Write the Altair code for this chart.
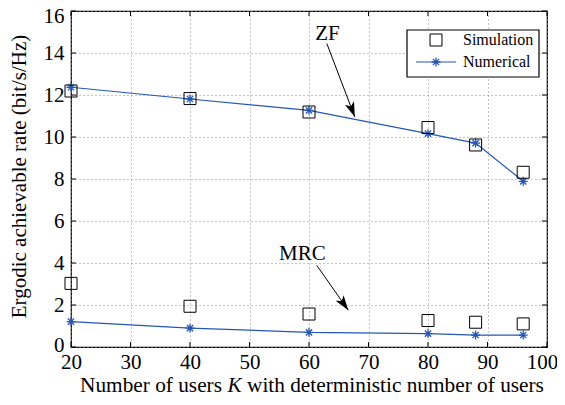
import math
import altair as alt
import pandas as pd

# ---------------- data ----------------
K = [20, 40, 60, 80, 88, 96]
zf_sim = [12.19, 11.83, 11.19, 10.45, 9.62, 8.32]
zf_num = [12.37, 11.81, 11.27, 10.16, 9.71, 7.89]
mrc_sim = [3.03, 1.94, 1.57, 1.26, 1.18, 1.10]
mrc_num = [1.21, 0.90, 0.70, 0.64, 0.57, 0.57]

x_ticks = [20, 30, 40, 50, 60, 70, 80, 90, 100]
y_ticks = [0, 2, 4, 6, 8, 10, 12, 14, 16]

ann_labels = ["ZF", "MRC"]
ann_text_x = [63.1, 58.9]
ann_text_y = [14.6, 4.13]
arrow_x0 = [63.0, 61.3]
arrow_y0 = [14.45, 3.89]
arrow_x1 = [67.7, 66.6]
arrow_y1 = [10.95, 1.75]

legend_labels = ["Simulation", "Numerical"]

# ---------------- styling ----------------
W, H = 476, 336
FONT = "Liberation Serif"
FS = 21
BLUE = "#2456b6"
STAR = "M0,-1L0,1M-1,0L1,0M-0.7,-0.7L0.7,0.7M-0.7,0.7L0.7,-0.7"
HEAD = "M0,0L-0.45,1.4L0,1.05L0.45,1.4Z"

xscale = alt.Scale(domain=[20, 100], nice=False, zero=False)
yscale = alt.Scale(domain=[0, 16], nice=False, zero=False)

num_df = pd.DataFrame({
    "K": K + K,
    "rate": zf_num + mrc_num,
    "scheme": ["ZF"] * len(K) + ["MRC"] * len(K),
})
sim_df = pd.DataFrame({
    "K": K + K,
    "rate": zf_sim + mrc_sim,
    "scheme": ["ZF"] * len(K) + ["MRC"] * len(K),
})

px_x = W / 80.0
px_y = H / 16.0
angles = []
for i in range(len(ann_labels)):
    dx = (arrow_x1[i] - arrow_x0[i]) * px_x
    dy = (arrow_y0[i] - arrow_y1[i]) * px_y
    a = math.degrees(math.atan2(dx, -dy)) % 360
    angles.append(a)

ann_df = pd.DataFrame({
    "label": ann_labels, "tx": ann_text_x, "ty": ann_text_y,
    "x0": arrow_x0, "y0": arrow_y0, "x1": arrow_x1, "y1": arrow_y1,
    "angle": angles,
})
xt_df = pd.DataFrame({"v": x_ticks})
yt_df = pd.DataFrame({"v": y_ticks})
one = pd.DataFrame({"a": [0]})

x_axis = alt.Axis(values=x_ticks, title=None, labelPadding=4, labelFlush=False,
                  labelFont=FONT, labelFontSize=FS, labelColor="black",
                  labelOffset={"condition": [
                      {"test": "datum.value === 100", "value": -5}],
                      "value": 0})
y_axis = alt.Axis(values=y_ticks, title="Ergodic achievable rate (bit/s/Hz)",
                  labelPadding=7, labelFont=FONT, labelFontSize=FS, labelColor="black",
                  labelFlush=False,
                  labelOffset={"condition": [
                      {"test": "datum.value === 16", "value": 5},
                      {"test": "datum.value === 0", "value": -2}],
                      "value": 0},
                  titleFont=FONT, titleFontSize=FS, titleFontWeight="normal",
                  titleColor="black", titleX=-46, titleY=165, titleAngle=270,
                  titleAlign="center", titleBaseline="alphabetic")


def X(field):
    return alt.X(field, scale=xscale, axis=x_axis)


def Y(field):
    return alt.Y(field, scale=yscale, axis=y_axis)


lines = alt.Chart(num_df).mark_line(color=BLUE, strokeWidth=1.2).encode(
    x=X("K:Q"), y=Y("rate:Q"), detail="scheme:N")
stars = alt.Chart(num_df).mark_point(shape=STAR, filled=False, size=80,
                                     color=BLUE, strokeWidth=1.3, opacity=1).encode(
    x=X("K:Q"), y=Y("rate:Q"))
squares = alt.Chart(sim_df).mark_point(shape="square", filled=False, size=144,
                                       color="black", strokeWidth=1, opacity=1).encode(
    x=X("K:Q"), y=Y("rate:Q"))

# inward ticks on all four sides
tb = alt.Chart(xt_df).mark_rule(color="black", strokeWidth=1).encode(
    x=X("v:Q"), y=alt.value(H), y2=alt.value(H - 5))
tt = alt.Chart(xt_df).mark_rule(color="black", strokeWidth=1).encode(
    x=X("v:Q"), y=alt.value(0), y2=alt.value(5))
tl = alt.Chart(yt_df).mark_rule(color="black", strokeWidth=1).encode(
    y=Y("v:Q"), x=alt.value(0), x2=alt.value(5))
tr = alt.Chart(yt_df).mark_rule(color="black", strokeWidth=1).encode(
    y=Y("v:Q"), x=alt.value(W), x2=alt.value(W - 5))

# annotations
ann_text = alt.Chart(ann_df).mark_text(font=FONT, fontSize=21, color="black",
                                       align="center", baseline="alphabetic").encode(
    x=X("tx:Q"), y=Y("ty:Q"), text="label:N")
ann_line = alt.Chart(ann_df).mark_rule(color="black", strokeWidth=1).encode(
    x=X("x0:Q"), y=Y("y0:Q"), x2="x1:Q", y2="y1:Q")
ann_head = alt.Chart(ann_df).mark_point(shape=HEAD, filled=True, size=460,
                                        color="black", opacity=1).encode(
    x=X("x1:Q"), y=Y("y1:Q"), angle=alt.Angle("angle:Q", scale=None))

# legend
leg_box = alt.Chart(one).mark_rect(fill="white", stroke="black", strokeWidth=1.2).encode(
    x=alt.value(336), x2=alt.value(468), y=alt.value(19), y2=alt.value(66))
leg_sq = alt.Chart(one).mark_point(shape="square", filled=False, size=144,
                                   color="black", strokeWidth=1, opacity=1).encode(
    x=alt.value(365), y=alt.value(29))
leg_line = alt.Chart(one).mark_rule(color=BLUE, strokeWidth=1.2).encode(
    x=alt.value(345), x2=alt.value(385), y=alt.value(51))
leg_star = alt.Chart(one).mark_point(shape=STAR, filled=False, size=80,
                                     color=BLUE, strokeWidth=1.3, opacity=1).encode(
    x=alt.value(365), y=alt.value(51))
leg_t1 = alt.Chart(one).mark_text(text=legend_labels[0], font=FONT, fontSize=16,
                                  align="left", baseline="middle", color="black").encode(
    x=alt.value(392), y=alt.value(29))
leg_t2 = alt.Chart(one).mark_text(text=legend_labels[1], font=FONT, fontSize=16,
                                  align="left", baseline="middle", color="black").encode(
    x=alt.value(392), y=alt.value(51))

# x-axis title with italic K
TY = 381
TFS = 21.3
xt1 = alt.Chart(one).mark_text(text="Number of users", font=FONT, fontSize=TFS,
                               align="right", baseline="alphabetic", color="black").encode(
    x=alt.value(151), y=alt.value(TY))
xt2 = alt.Chart(one).mark_text(text="K", font=FONT, fontSize=TFS, fontStyle="italic",
                               align="center", baseline="alphabetic", color="black").encode(
    x=alt.value(163.5), y=alt.value(TY))
xt3 = alt.Chart(one).mark_text(text="with deterministic number of users", font=FONT,
                               fontSize=TFS, align="left", baseline="alphabetic",
                               color="black").encode(
    x=alt.value(176), y=alt.value(TY))

chart = alt.layer(
    lines, stars, squares, tb, tt, tl, tr,
    ann_line, ann_head, ann_text,
    leg_box, leg_sq, leg_line, leg_star, leg_t1, leg_t2,
    xt1, xt2, xt3,
).properties(
    width=W, height=H,
    padding={"left": 63, "top": 3, "right": 10, "bottom": 50},
    autosize=alt.AutoSizeParams(type="none"),
    background="white",
).configure_view(
    stroke="black", strokeWidth=1.2
).configure_axis(
    grid=True, gridDash=[1, 3], gridColor="#8a8a8a", gridWidth=1,
    domain=False, ticks=False, tickSize=0,
)

chart.save("out.html", embed_options={"renderer": "svg", "actions": False})
